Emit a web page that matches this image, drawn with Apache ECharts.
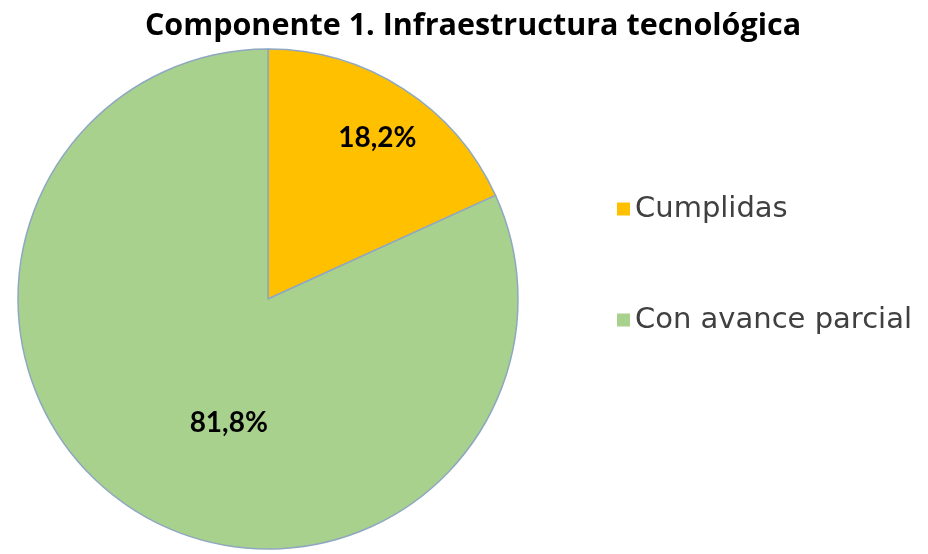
<!DOCTYPE html>
<html>
<head>
<meta charset="utf-8">
<script src="https://cdn.jsdelivr.net/npm/echarts@6/dist/echarts.min.js"></script>
<style>
  html, body { margin: 0; padding: 0; background: #fff; }
  #chart { width: 928px; height: 554px; }
</style>
</head>
<body>
<div id="chart"></div>
<script>
  const categories = ['Cumplidas', 'Con avance parcial'];
  const values = [18.2, 81.8];
  const colors = ['#FFC000', '#A9D18E'];
  // nudges so the labels sit where the original chart had them
  const labelShift = [[40, -53], [30, 16]];

  const chart = echarts.init(document.getElementById('chart'));
  const pieData = categories.map((name, i) => ({
    name: name,
    value: values[i],
    itemStyle: { color: colors[i] }
  }));

  chart.setOption({
    animation: false,
    title: {
      text: 'Componente 1. Infraestructura tecnológica',
      left: 468,
      textAlign: 'center',
      top: 6,
      textStyle: {
        fontFamily: 'Open Sans',
        fontWeight: 'bold',
        fontSize: 30.5,
        color: '#000'
      }
    },
    legend: {
      orient: 'vertical',
      left: 612,
      top: 189,
      itemGap: 81,
      itemWidth: 13,
      itemHeight: 13,
      icon: 'rect',
      itemStyle: { borderWidth: 0 },
      data: categories,
      textStyle: {
        fontFamily: 'DejaVu Sans',
        fontSize: 29,
        lineHeight: 30,
        color: '#404040'
      }
    },
    series: [{
      type: 'pie',
      center: [268, 299],
      radius: 250,
      startAngle: 90,
      clockwise: true,
      data: pieData,
      itemStyle: {
        borderColor: '#8FA8C0',
        borderWidth: 1.5
      },
      label: {
        show: true,
        position: 'inside',
        formatter: p => p.value.toFixed(1).replace('.', ',') + '%',
        fontFamily: 'Lato',
        fontWeight: 'bold',
        fontSize: 28,
        color: '#000'
      },
      labelLayout: p => ({ dx: labelShift[p.dataIndex][0], dy: labelShift[p.dataIndex][1] }),
      labelLine: { show: false },
      emphasis: { disabled: true }
    }]
  });
</script>
</body>
</html>
